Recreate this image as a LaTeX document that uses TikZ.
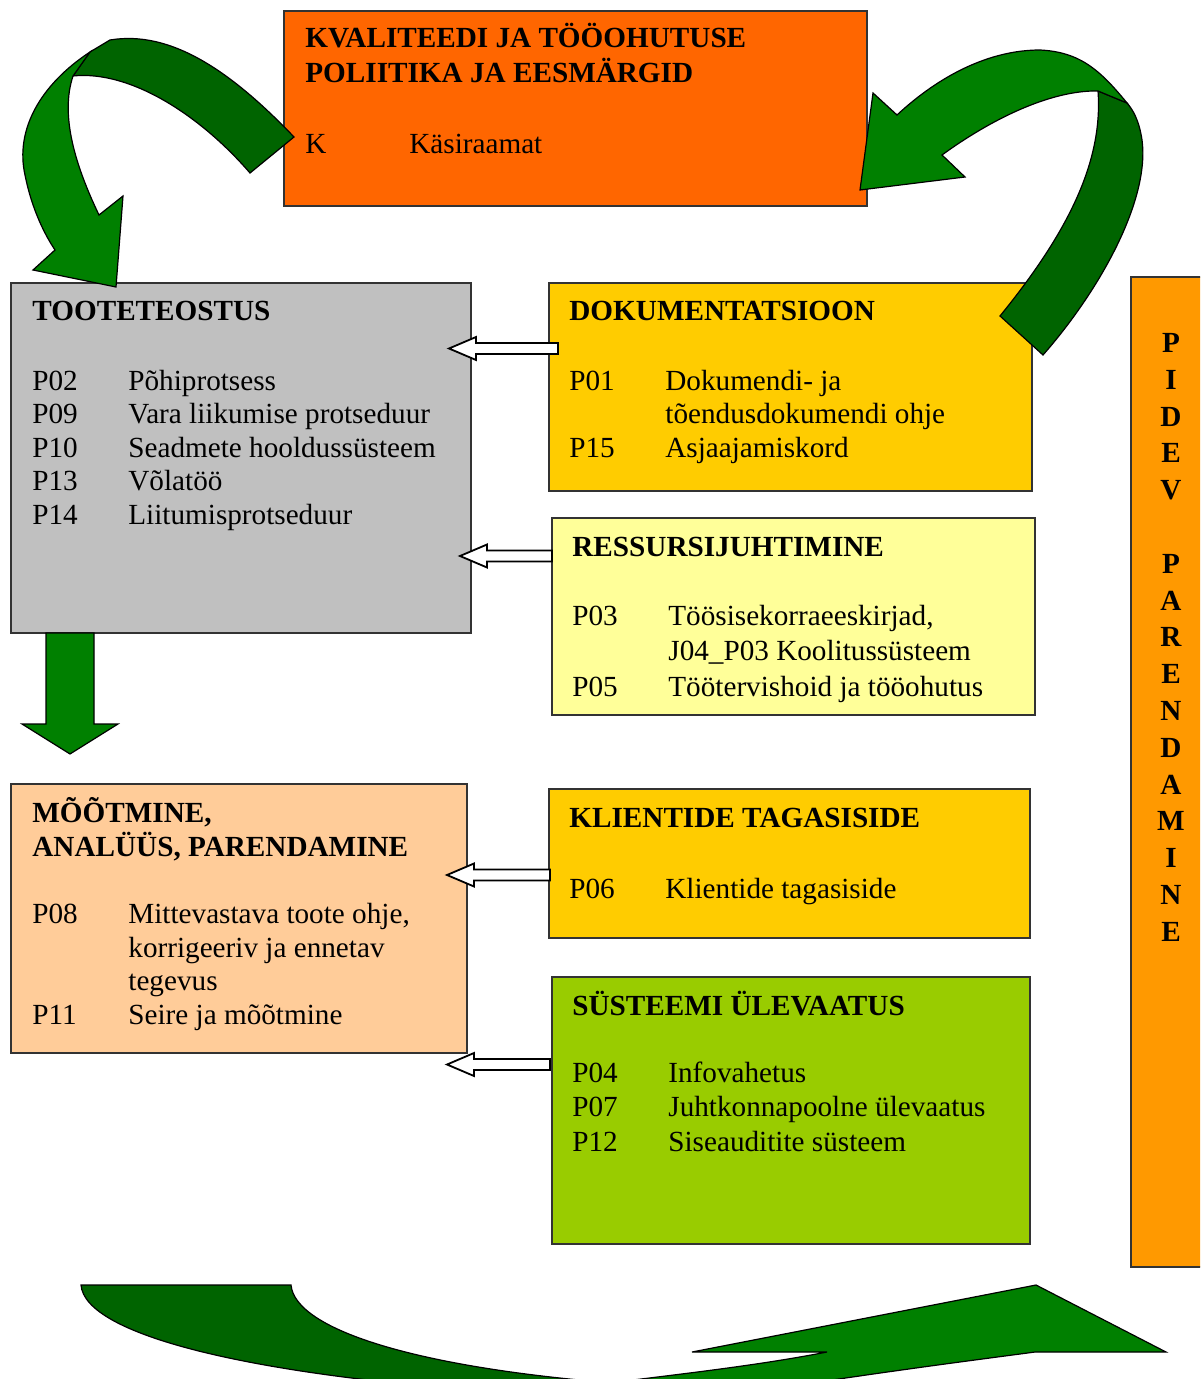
\documentclass[tikz,border=0pt]{standalone}
\usepackage{fontspec}
\setmainfont{Liberation Serif}
\usepackage{tikz}
\usetikzlibrary{calc,positioning}

\definecolor{poliitikacol}{HTML}{FF6600}
\definecolor{hallcol}{HTML}{C0C0C0}
\definecolor{kollanecol}{HTML}{FFCC00}
\definecolor{helekollanecol}{HTML}{FFFF99}
\definecolor{virsikcol}{HTML}{FFCC99}
\definecolor{rohelinecol}{HTML}{99CC00}
\definecolor{pidevcol}{HTML}{FF9900}
\definecolor{noolcol}{HTML}{008000}
\definecolor{tumenoolcol}{HTML}{006400}

\tikzset{
  box/.style={draw=black!80, line width=0.6pt, anchor=north west, inner sep=0pt, outer sep=0pt},
  boxtext/.style={anchor=base west, inner sep=0pt, font=\fontsize{14.6}{16.8}\selectfont},
  hollow/.style={draw=black, fill=white, line width=0.9pt},
  bigarrow/.style={draw=black, line width=0.6pt, fill=noolcol},
  bigarrowback/.style={draw=black, line width=0.6pt, fill=tumenoolcol}
}

\newcommand{\hollowarrow}[3]{%
  \draw[hollow] let \p1=(#1), \p2=(#2), \p3=(0,#3) in
    (\x1,\y3+2.75pt) -- (\x2+13.5pt,\y3+2.75pt) -- (\x2+13.5pt,\y3+5.75pt)
    -- (\x2,\y3) -- (\x2+13.5pt,\y3-5.75pt) -- (\x2+13.5pt,\y3-2.75pt)
    -- (\x1,\y3-2.75pt) -- cycle;}

\begin{document}
\begin{tikzpicture}[x=0.5pt, y=-0.5pt]
\useasboundingbox (0,0) rectangle (1200,1379);
\clip (0,0) rectangle (1200,1379);

% boxes
\node[box, fill=poliitikacol, minimum width=291.5pt, minimum height=97.5pt] (poliitika) at (284,11) {};
\node[box, fill=hallcol, minimum width=230pt, minimum height=175pt] (tooteteostus) at (11,283) {};
\node[box, fill=kollanecol, minimum width=241.5pt, minimum height=104pt] (dokumentatsioon) at (549,283) {};
\node[box, fill=helekollanecol, minimum width=241.5pt, minimum height=98.5pt] (ressursid) at (552,518) {};
\node[box, fill=virsikcol, minimum width=228pt, minimum height=134.5pt] (mootmine) at (11,784) {};
\node[box, fill=kollanecol, minimum width=240.5pt, minimum height=74.5pt] (tagasiside) at (549,789) {};
\node[box, fill=rohelinecol, minimum width=239pt, minimum height=133.5pt] (ylevaatus) at (552,977) {};
\node[box, fill=pidevcol, minimum width=40pt, minimum height=495pt] (pidev) at (1131,277) {};

% texts
\node[boxtext] (poliitikatxt) at ($(poliitika.north west)+(21,37)$) {\begin{tabular}[t]{@{}p{52pt}@{}l@{}}
\multicolumn{2}{@{}l@{}}{\bfseries KVALITEEDI JA TÖÖOHUTUSE}\\
\multicolumn{2}{@{}l@{}}{\bfseries POLIITIKA JA EESMÄRGID}\\[2pt]
\\
K & Käsiraamat
\end{tabular}};
\node[boxtext] (tooteteostustxt) at ($(tooteteostus.north west)+(21,38)$) {\begin{tabular}[t]{@{}p{48pt}@{}l@{}}
\multicolumn{2}{@{}l@{}}{\bfseries TOOTETEOSTUS}\\[1pt]
\\
P02 & Põhiprotsess\\
P09 & Vara liikumise protseduur\\
P10 & Seadmete hooldussüsteem\\
P13 & Võlatöö\\
P14 & Liitumisprotseduur
\end{tabular}};
\node[boxtext] (dokumentatsioontxt) at ($(dokumentatsioon.north west)+(20,38)$) {\begin{tabular}[t]{@{}p{48pt}@{}l@{}}
\multicolumn{2}{@{}l@{}}{\bfseries DOKUMENTATSIOON}\\[1pt]
\\
P01 & Dokumendi- ja\\
 & tõendusdokumendi ohje\\
P15 & Asjaajamiskord
\end{tabular}};
\node[boxtext] (ressursidtxt) at ($(ressursid.north west)+(20,38)$) {\begin{tabular}[t]{@{}p{48pt}@{}l@{}}
\multicolumn{2}{@{}l@{}}{\bfseries RESSURSIJUHTIMINE}\\[1pt]
\\
P03 & Töösisekorraeeskirjad,\\[1pt]
 & J04\_P03 Koolitussüsteem\\[1pt]
P05 & Töötervishoid ja tööohutus
\end{tabular}};
\node[boxtext] (mootminetxt) at ($(mootmine.north west)+(21,38)$) {\begin{tabular}[t]{@{}p{48pt}@{}l@{}}
\multicolumn{2}{@{}l@{}}{\bfseries MÕÕTMINE,}\\
\multicolumn{2}{@{}l@{}}{\bfseries ANALÜÜS, PARENDAMINE}\\
\\
P08 & Mittevastava toote ohje,\\
 & korrigeeriv ja ennetav\\
 & tegevus\\
P11 & Seire ja mõõtmine
\end{tabular}};
\node[boxtext] (tagasisidetxt) at ($(tagasiside.north west)+(20,38)$) {\begin{tabular}[t]{@{}p{48pt}@{}l@{}}
\multicolumn{2}{@{}l@{}}{\bfseries KLIENTIDE TAGASISIDE}\\[2pt]
\\
P06 & Klientide tagasiside
\end{tabular}};
\node[boxtext] (ylevaatustxt) at ($(ylevaatus.north west)+(20,38)$) {\begin{tabular}[t]{@{}p{48pt}@{}l@{}}
\multicolumn{2}{@{}l@{}}{\bfseries SÜSTEEMI ÜLEVAATUS}\\
\\
P04 & Infovahetus\\[0.5pt]
P07 & Juhtkonnapoolne ülevaatus\\[0.5pt]
P12 & Siseauditite süsteem
\end{tabular}};
\foreach \ch/\k in {P/0,I/1,D/2,E/3,V/4,P/6,A/7,R/8,E/9,N/10,D/11,A/12,M/13,I/14,N/15,E/16}
  \node[font=\fontsize{14.6}{16.8}\selectfont\bfseries, inner sep=0pt] (pidev\k) at (1171,343+36.8*\k) {\ch};

% hollow arrows
\hollowarrow{[xshift=4.5pt]dokumentatsioon.west}{[xshift=-11pt]tooteteostus.east}{348.5}
\hollowarrow{ressursid.west}{[xshift=-5.5pt]tooteteostus.east}{556}
\hollowarrow{[xshift=0.5pt]tagasiside.west}{[xshift=-10pt]mootmine.east}{875}
\hollowarrow{[xshift=-1pt]ylevaatus.west}{[xshift=-10pt]mootmine.east}{1064.5}

% down arrow
\draw[bigarrow] ([xshift=17.5pt]tooteteostus.south west) -- ++(48,0) -- ++(0,91) -- ++(24,0)
  -- ++(-48,30) -- ++(-48,-30) -- ++(24,0) -- cycle;

% curved arrow top left
\draw[bigarrowback] (294,137) .. controls (230,70) and (170,30) .. (110,40) -- (90,52) -- (73,76)
  .. controls (130,70) and (200,115) .. (250,173) -- cycle;
\draw[bigarrow] (90,52) .. controls (40,85) and (15,130) .. (25,175) .. controls (32,210) and (45,235) .. (55,250)
  -- (33,270) -- (116,287) -- (123,196) -- (99,215) .. controls (75,165) and (60,115) .. (73,76) -- cycle;

% curved arrow top right
\draw[bigarrowback] (1000,316) -- (1043,355) .. controls (1100,290) and (1150,200) .. (1142,140)
  .. controls (1139,120) and (1133,110) .. (1127,103) -- (1098,91) .. controls (1103,160) and (1070,230) .. (1000,316) -- cycle;
\draw[bigarrow] (1098,91) -- (1127,103) .. controls (1100,70) and (1080,52) .. (1040,50)
  .. controls (990,50) and (940,75) .. (897,115) -- (873,93) -- (860,190) -- (965,177) -- (942,155)
  .. controls (990,120) and (1050,90) .. (1098,91) -- cycle;

% curved arrow bottom
\draw[bigarrow] (560,1420) -- (600,1384) .. controls (690,1373) and (760,1365) .. (827,1352) -- (692,1352)
  -- (1036,1285) -- (1166,1352) -- (1035,1352) .. controls (960,1362) and (880,1372) .. (700,1400) -- (640,1430) -- cycle;
\draw[bigarrowback] (81,1285) -- (291,1285) .. controls (295,1330) and (420,1370) .. (640,1385) -- (640,1420)
  -- (500,1392) .. controls (250,1375) and (85,1335) .. (81,1285) -- cycle;
\end{tikzpicture}
\end{document}
